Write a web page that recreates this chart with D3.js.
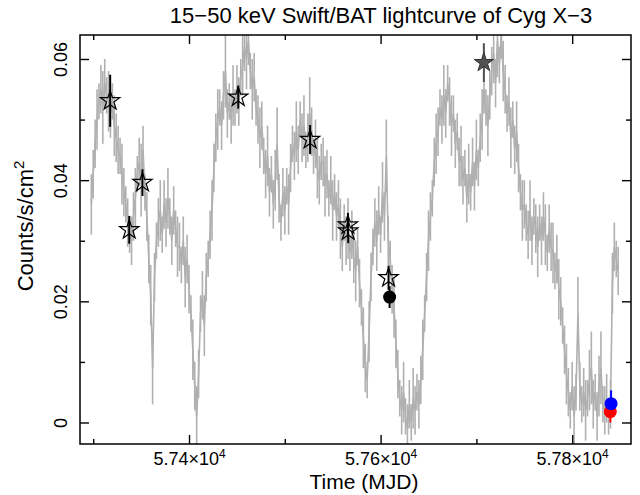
<!DOCTYPE html>
<html>
<head>
<meta charset="utf-8">
<script src="https://cdn.jsdelivr.net/npm/d3@7"></script>
<style>
  body { margin: 0; background: #fff; }
  svg text { font-family: "Liberation Sans", Arial, sans-serif; fill: #000; }
</style>
</head>
<body>
<div id="chart"></div>
<script>
// Swift/BAT 15-50 keV light curve (MJD, counts/s/cm2, 1-sigma error)
const mjd = [
  57298,57300,57302,57304,57306,57308,57310,57312,57314,57316,
  57318,57320,57322,57324,57326,57328,57330,57332,57334,57336,
  57338,57340,57342,57344,57346,57348,57350,57352,57354,57356,
  57358,57360,57362,57364,57366,57368,57370,57372,57374,57376,
  57378,57380,57382,57384,57386,57388,57390,57392,57394,57396,
  57398,57400,57402,57404,57406,57408,57410,57412,57414,57416,
  57418,57420,57422,57424,57426,57428,57430,57432,57434,57436,
  57438,57440,57442,57444,57446,57448,57450,57452,57454,57456,
  57458,57460,57462,57464,57466,57468,57470,57472,57474,57476,
  57478,57480,57482,57484,57486,57488,57490,57492,57494,57496,
  57498,57500,57502,57504,57506,57508,57510,57512,57514,57516,
  57518,57520,57522,57524,57526,57528,57530,57532,57534,57536,
  57538,57540,57542,57544,57546,57548,57550,57552,57554,57556,
  57558,57560,57562,57564,57566,57568,57570,57572,57574,57576,
  57578,57580,57582,57584,57586,57588,57590,57592,57594,57596,
  57598,57600,57602,57604,57606,57608,57610,57612,57614,57616,
  57618,57620,57622,57624,57626,57628,57630,57632,57634,57636,
  57638,57640,57642,57644,57646,57648,57650,57652,57654,57656,
  57658,57660,57662,57664,57666,57668,57670,57672,57674,57676,
  57678,57680,57682,57684,57686,57688,57690,57692,57694,57696,
  57698,57700,57702,57704,57706,57708,57710,57712,57714,57716,
  57718,57720,57722,57724,57726,57728,57730,57732,57734,57736,
  57738,57740,57742,57744,57746,57748,57750,57752,57754,57756,
  57758,57760,57762,57764,57766,57768,57770,57772,57774,57776,
  57778,57780,57782,57784,57786,57788,57790,57792,57794,57796,
  57798,57800,57802,57804,57806,57808,57810,57812,57814,57816,
  57818,57820,57822,57824,57826,57828,57830,57832,57834,57836,
  57838,57840,57842,57844,57846,57848
];
const rate = [
  .036,.041,.046,.050,.053,.055,.052,.056,.054,.053,
  .051,.053,.049,.047,.045,.044,.041,.038,.036,.033,
  .031,.030,.034,.037,.041,.043,.040,.045,.038,.034,
  .027,.021,.009,.024,.030,.033,.035,.031,.036,.033,
  .037,.034,.030,.035,.032,.029,.029,.026,.030,.024,
  .027,.022,.018,.012,.006,.001,.008,.018,.021,.016,
  .024,.027,.031,.035,.042,.047,.050,.052,.049,.054,
  .058,.051,.053,.050,.054,.052,.055,.053,.057,.059,
  .062,.060,.063,.058,.055,.057,.052,.050,.047,.049,
  .044,.041,.044,.038,.041,.036,.040,.046,.037,.033,
  .038,.035,.039,.036,.042,.046,.044,.048,.045,.050,
  .047,.049,.045,.047,.051,.048,.044,.046,.042,.040,
  .043,.043,.039,.041,.037,.040,.035,.038,.034,.036,
  .032,.029,.033,.030,.032,.028,.031,.027,.025,.029,
  .023,.019,.014,.009,.007,.015,.024,.029,.033,.030,
  .035,.031,.038,.034,.044,.030,.027,.022,.019,.013,
  .008,.004,.002,.005,.001,-.001,.003,.000,.004,.002,
  .005,.003,.007,.012,.018,.024,.030,.034,.037,.043,
  .046,.048,.052,.050,.054,.051,.056,.053,.049,.051,
  .046,.048,.043,.044,.040,.042,.037,.041,.038,.043,
  .039,.045,.042,.047,.050,.055,.052,.049,.054,.058,
  .061,.056,.063,.059,.064,.058,.055,.051,.053,.047,
  .050,.045,.048,.042,.038,.035,.036,.033,.031,.035,
  .030,.034,.032,.029,.033,.030,.034,.031,.028,.032,
  .029,.028,.025,.027,.022,.020,.016,.012,.008,.005,
  .002,.006,.001,.005,.018,.006,.003,.005,.002,.004,
  .007,.009,.003,.005,.001,.006,.009,.003,.002,.004,
  .001,.003,.023,.029,.027,.025
];
const rateErr = [
  .005,.004,.004,.005,.003,.004,.006,.004,.003,.005,
  .004,.003,.005,.004,.004,.003,.005,.004,.003,.004,
  .003,.004,.004,.005,.003,.004,.006,.004,.003,.004,
  .004,.005,.006,.004,.003,.004,.005,.003,.004,.004,
  .005,.003,.004,.004,.003,.005,.004,.003,.004,.005,
  .004,.004,.003,.005,.004,.005,.004,.003,.004,.005,
  .004,.003,.004,.005,.004,.004,.005,.003,.004,.004,
  .006,.004,.003,.004,.005,.003,.004,.004,.003,.005,
  .004,.005,.004,.003,.005,.004,.003,.004,.005,.004,
  .003,.004,.005,.004,.003,.004,.005,.006,.004,.003,
  .004,.004,.003,.005,.004,.003,.004,.005,.004,.003,
  .004,.005,.003,.004,.006,.004,.003,.004,.005,.004,
  .003,.004,.005,.004,.003,.004,.005,.003,.004,.004,
  .005,.004,.003,.004,.005,.003,.004,.004,.005,.003,
  .004,.003,.005,.004,.003,.005,.004,.003,.004,.005,
  .004,.003,.005,.004,.006,.004,.003,.004,.005,.004,
  .004,.003,.004,.005,.003,.004,.004,.003,.005,.004,
  .003,.004,.004,.005,.003,.004,.005,.004,.003,.004,
  .005,.004,.003,.004,.005,.004,.003,.004,.005,.003,
  .004,.003,.004,.005,.004,.003,.004,.005,.003,.004,
  .004,.005,.003,.004,.005,.004,.003,.005,.004,.004,
  .005,.004,.006,.003,.004,.005,.004,.003,.004,.005,
  .003,.004,.005,.004,.003,.005,.004,.003,.004,.005,
  .004,.003,.004,.005,.003,.004,.004,.005,.003,.004,
  .004,.005,.003,.004,.005,.004,.003,.004,.005,.004,
  .003,.004,.005,.003,.006,.004,.003,.004,.005,.003,
  .005,.006,.004,.003,.004,.005,.006,.003,.004,.004,
  .003,.004,.005,.004,.003,.004
];

// open-star epochs
const starMjd  = [57317.7, 57337.6, 57351.4, 57451.4, 57526.4, 57565.9, 57566.2, 57608.3];
const starRate = [0.0531, 0.0318, 0.0396, 0.0537, 0.0467, 0.0326, 0.0316, 0.0239];
const starErr  = [0.0043, 0.0023, 0.0022, 0.0019, 0.0024, 0.0020, 0.0020, 0.0020];

// other highlighted epochs
const markMjd   = [57609.4, 57707.8, 57839.8, 57840.6];
const markRate  = [0.0207, 0.0594, 0.0018, 0.0031];
const markErr   = [0.0018, 0.0032, 0.0018, 0.0022];
const markShape = ["dot", "star", "dot", "dot"];
const markColor = ["#000000", "#505050", "#ff0000", "#0000ff"];

const xMajor = [57400, 57600, 57800];
const xMinor = [57300, 57500, 57700];
const yMajor = [0, 0.02, 0.04, 0.06];
const yMinor = [0.01, 0.03, 0.05];

const width = 640, height = 495;
const plot = {left: 80, right: 631, top: 35, bottom: 444};

const svg = d3.select('#chart').append('svg')
  .attr('width', width).attr('height', height);

const x = d3.scaleLinear().domain([57286.2, 57861.4]).range([plot.left, plot.right]);
const y = d3.scaleLinear().domain([-0.00355, 0.06396]).range([plot.bottom, plot.top]);

svg.append('clipPath').attr('id', 'clip')
  .append('rect')
  .attr('x', plot.left).attr('y', plot.top)
  .attr('width', plot.right - plot.left).attr('height', plot.bottom - plot.top);

const data = mjd.map((t, i) => ({t: t, r: rate[i], e: rateErr[i]}));

// grey light curve
const lc = svg.append('g').attr('clip-path', 'url(#clip)');
lc.selectAll('line.eb')
  .data(data)
  .enter().append('line')
  .attr('class', 'eb')
  .attr('x1', d => x(d.t)).attr('x2', d => x(d.t))
  .attr('y1', d => y(d.r - d.e)).attr('y2', d => y(d.r + d.e))
  .attr('stroke', '#b0b0b0').attr('stroke-width', 1.6);
lc.append('path')
  .datum(data)
  .attr('d', d3.line().x(d => x(d.t)).y(d => y(d.r)))
  .attr('fill', 'none').attr('stroke', '#b0b0b0').attr('stroke-width', 1.6);

// highlighted points
const stars = starMjd.map((t, i) => ({t: t, r: starRate[i], e: starErr[i]}));
const marks = markMjd.map((t, i) => ({t: t, r: markRate[i], e: markErr[i], s: markShape[i], c: markColor[i]}));
const starPath = d3.symbol().type(d3.symbolStar).size(115)();

const pts = svg.append('g');
pts.selectAll('line.seb')
  .data(stars)
  .enter().append('line')
  .attr('class', 'seb')
  .attr('x1', d => x(d.t)).attr('x2', d => x(d.t))
  .attr('y1', d => y(d.r - d.e)).attr('y2', d => y(d.r + d.e))
  .attr('stroke', '#000').attr('stroke-width', 2);
pts.selectAll('path.star')
  .data(stars)
  .enter().append('path')
  .attr('class', 'star')
  .attr('d', starPath)
  .attr('transform', d => `translate(${x(d.t)},${y(d.r)})`)
  .attr('fill', 'none').attr('stroke', '#000').attr('stroke-width', 1.2);

pts.selectAll('line.meb')
  .data(marks)
  .enter().append('line')
  .attr('class', 'meb')
  .attr('x1', d => x(d.t)).attr('x2', d => x(d.t))
  .attr('y1', d => y(d.r - d.e)).attr('y2', d => y(d.r + d.e))
  .attr('stroke', d => d.c).attr('stroke-width', 2);
pts.selectAll('circle.dot')
  .data(marks.filter(d => d.s === 'dot'))
  .enter().append('circle')
  .attr('class', 'dot')
  .attr('cx', d => x(d.t)).attr('cy', d => y(d.r))
  .attr('r', 6.5)
  .attr('fill', d => d.c);
pts.selectAll('path.fstar')
  .data(marks.filter(d => d.s === 'star'))
  .enter().append('path')
  .attr('class', 'fstar')
  .attr('d', starPath)
  .attr('transform', d => `translate(${x(d.t)},${y(d.r)})`)
  .attr('fill', d => d.c).attr('stroke', '#333').attr('stroke-width', 1);

// axes, ticks pointing inward on all four sides
function tidy(g) {
  g.select('.domain').remove();
  g.selectAll('.tick line').attr('stroke', '#000').attr('stroke-width', 1.4);
}
const gx = svg.append('g').attr('transform', `translate(0,${plot.bottom})`)
  .call(d3.axisBottom(x).tickValues(xMajor).tickSizeInner(-9).tickSizeOuter(0))
  .call(tidy);
gx.selectAll('.tick text').each(function(d) {
  const t = d3.select(this);
  const p = Math.floor(Math.log10(d));
  t.text(null).attr('y', 21).attr('dy', null).attr('font-size', 18);
  t.append('tspan').text((d / Math.pow(10, p)).toFixed(2) + '×10');
  t.append('tspan').text(p).attr('font-size', 12).attr('dy', -7);
});
svg.append('g').attr('transform', `translate(0,${plot.bottom})`)
  .call(d3.axisBottom(x).tickValues(xMinor).tickSizeInner(-5).tickSizeOuter(0).tickFormat(''))
  .call(tidy);
svg.append('g').attr('transform', `translate(0,${plot.top})`)
  .call(d3.axisTop(x).tickValues(xMajor).tickSizeInner(-9).tickSizeOuter(0).tickFormat(''))
  .call(tidy);
svg.append('g').attr('transform', `translate(0,${plot.top})`)
  .call(d3.axisTop(x).tickValues(xMinor).tickSizeInner(-5).tickSizeOuter(0).tickFormat(''))
  .call(tidy);

const gy = svg.append('g').attr('transform', `translate(${plot.left},0)`)
  .call(d3.axisLeft(y).tickValues(yMajor).tickSizeInner(-9).tickSizeOuter(0)
    .tickFormat(d => d === 0 ? '0' : d3.format('.2f')(d)))
  .call(tidy);
gy.selectAll('.tick text')
  .attr('transform', 'rotate(-90)')
  .attr('x', 0).attr('y', -13).attr('dy', null)
  .attr('text-anchor', 'middle').attr('font-size', 18);
svg.append('g').attr('transform', `translate(${plot.left},0)`)
  .call(d3.axisLeft(y).tickValues(yMinor).tickSizeInner(-5).tickSizeOuter(0).tickFormat(''))
  .call(tidy);
svg.append('g').attr('transform', `translate(${plot.right},0)`)
  .call(d3.axisRight(y).tickValues(yMajor).tickSizeInner(-9).tickSizeOuter(0).tickFormat(''))
  .call(tidy);
svg.append('g').attr('transform', `translate(${plot.right},0)`)
  .call(d3.axisRight(y).tickValues(yMinor).tickSizeInner(-5).tickSizeOuter(0).tickFormat(''))
  .call(tidy);

// frame
svg.append('rect')
  .attr('x', plot.left).attr('y', plot.top)
  .attr('width', plot.right - plot.left).attr('height', plot.bottom - plot.top)
  .attr('fill', 'none').attr('stroke', '#000').attr('stroke-width', 1.5);

// titles
svg.append('text')
  .attr('x', 381).attr('y', 23)
  .attr('text-anchor', 'middle').attr('font-size', 22)
  .text('15−50 keV Swift/BAT lightcurve of Cyg X−3');
svg.append('text')
  .attr('x', 364).attr('y', 489)
  .attr('text-anchor', 'middle').attr('font-size', 21)
  .text('Time (MJD)');
const yl = svg.append('text')
  .attr('transform', 'translate(33,226) rotate(-90)')
  .attr('text-anchor', 'middle').attr('font-size', 22);
yl.append('tspan').text('Counts/s/cm');
yl.append('tspan').text('2').attr('font-size', 15).attr('dy', -9);
</script>
</body>
</html>
